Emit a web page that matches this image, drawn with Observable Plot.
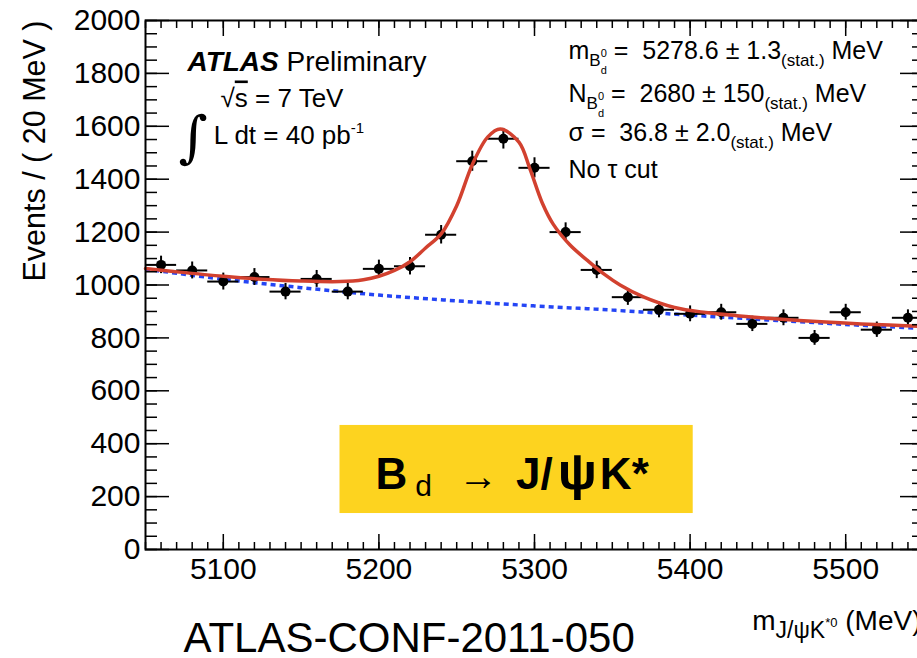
<!DOCTYPE html>
<html>
<head>
<meta charset="utf-8">
<script src="https://cdn.jsdelivr.net/npm/d3@7"></script>
<script src="https://cdn.jsdelivr.net/npm/@observablehq/plot@0.6"></script>
<style>
  html, body { margin: 0; padding: 0; background: #fff; overflow: hidden; }
  #chart svg { display: block; }
</style>
</head>
<body>
<div id="chart"></div>
<script>
// ---- data ----
const binCenters = [5060, 5080, 5100, 5120, 5140, 5160, 5180, 5200, 5220, 5240, 5260, 5280, 5300,
                    5320, 5340, 5360, 5380, 5400, 5420, 5440, 5460, 5480, 5500, 5520, 5540];
const eventCounts = [1076, 1055, 1013, 1030, 975, 1023, 975, 1061, 1071, 1190, 1468, 1553, 1443,
                     1200, 1057, 954, 906, 891, 897, 853, 876, 800, 897, 831, 876];
const countErrors = [33, 32, 32, 32, 31, 32, 31, 33, 33, 35, 38, 39, 38,
                     35, 33, 31, 30, 30, 30, 29, 30, 28, 30, 29, 30];
const binHalfWidth = 10;

// total fit (red)
const fitMass = [5050, 5068, 5100, 5125, 5150, 5175, 5190, 5200, 5210, 5220, 5230, 5240, 5250, 5260,
                 5270, 5278, 5290, 5297, 5305, 5312, 5323, 5334, 5345, 5355, 5370, 5390, 5410, 5430,
                 5450, 5470, 5490, 5510, 5550];
const fitEvents = [1062, 1051, 1033, 1022, 1015, 1013, 1020, 1033, 1055, 1088, 1140, 1193, 1300, 1455,
                   1560, 1590, 1540, 1440, 1310, 1230, 1150, 1093, 1040, 1000, 955, 915, 896, 884,
                   874, 866, 859, 853, 843];
// background component (blue dotted)
const bkgMass = [5050, 5100, 5150, 5200, 5250, 5300, 5350, 5400, 5450, 5500, 5550];
const bkgEvents = [1060, 1022, 990, 962, 940, 921, 905, 886, 868, 851, 835];

// axis ticks
const yMajorTicks = [0, 200, 400, 600, 800, 1000, 1200, 1400, 1600, 1800, 2000];
const yMinorTicks = d3.range(0, 2001, 50);
const xMajorTicks = [5100, 5200, 5300, 5400, 5500];
const xMinorTicks = d3.range(5050, 5551, 10);

// decay label box extent (in data units)
const boxMass = [5175, 5402];
const boxEvents = [136, 469];

// ---- tables for Plot ----
const points = binCenters.map((m, i) => ({m, n: eventCounts[i], e: countErrors[i]}));
const fit = fitMass.map((m, i) => ({m, n: fitEvents[i]}));
const bkg = bkgMass.map((m, i) => ({m, n: bkgEvents[i]}));

const FONT = "'Liberation Sans', Arial, Helvetica, sans-serif";

const note = (key, opts) => Plot.text([key], {text: d => d, frameAnchor: "top-left",
  textAnchor: "start", lineAnchor: "middle", fill: "black", ...opts});

const chart = Plot.plot({
  width: 917,
  height: 658,
  marginLeft: 145,
  marginRight: -6,
  marginTop: 20,
  marginBottom: 109,
  style: {fontFamily: FONT, background: "#fff", color: "black"},
  x: {domain: [5050, 5550], axis: null},
  y: {domain: [0, 2000], axis: null},
  marks: [
    // yellow decay box
    Plot.rect([0], {x1: () => boxMass[0], x2: () => boxMass[1], y1: () => boxEvents[0], y2: () => boxEvents[1],
      fill: "#fdd31f"}),
    // background component
    Plot.line(bkg, {x: "m", y: "n", curve: "catmull-rom", stroke: "#2445f5", strokeWidth: 3.5,
      strokeDasharray: "5,4", strokeLinecap: "butt"}),
    // data error bars
    Plot.ruleY(points, {y: "n", x1: d => d.m - binHalfWidth, x2: d => d.m + binHalfWidth, stroke: "black", strokeWidth: 2}),
    Plot.ruleX(points, {x: "m", y1: d => d.n - d.e, y2: d => d.n + d.e, stroke: "black", strokeWidth: 2}),
    Plot.dot(points, {x: "m", y: "n", r: 5, fill: "black", stroke: "none"}),
    // total fit
    Plot.line(fit, {x: "m", y: "n", curve: "catmull-rom", stroke: "#d2412f", strokeWidth: 3.5}),
    // axes ticks (inward)
    Plot.axisY(yMajorTicks, {anchor: "left", tickSize: -24, fill: "none", label: null, strokeWidth: 1.5}),
    Plot.axisY(yMinorTicks, {anchor: "left", tickSize: -12, fill: "none", label: null, strokeWidth: 1.5}),
    Plot.axisY(yMajorTicks, {anchor: "right", tickSize: -24, fill: "none", label: null, strokeWidth: 1.5}),
    Plot.axisY(yMinorTicks, {anchor: "right", tickSize: -12, fill: "none", label: null, strokeWidth: 1.5}),
    Plot.axisX(xMajorTicks, {anchor: "bottom", tickSize: -15, fill: "none", label: null, strokeWidth: 1.5}),
    Plot.axisX(xMinorTicks, {anchor: "bottom", tickSize: -7, fill: "none", label: null, strokeWidth: 1.5}),
    Plot.axisX(xMajorTicks, {anchor: "top", tickSize: -15, fill: "none", label: null, strokeWidth: 1.5}),
    Plot.axisX(xMinorTicks, {anchor: "top", tickSize: -7, fill: "none", label: null, strokeWidth: 1.5}),
    // tick labels
    Plot.axisY(yMajorTicks, {anchor: "left", tickSize: 0, tickPadding: 5, fontSize: 30, label: null, tickFormat: d => String(d)}),
    Plot.axisX(xMajorTicks, {anchor: "bottom", tickSize: 0, tickPadding: 8, fontSize: 30, label: null, tickFormat: d => String(d)}),
    Plot.frame({stroke: "black", strokeWidth: 2}),
    // axis titles
    Plot.text(["Events / ( 20 MeV )"], {text: d => d, frameAnchor: "top-left", rotate: -90, textAnchor: "end",
      lineAnchor: "middle", dx: -110, dy: 0, fontSize: 30.5, fill: "black"}),
    note("@xtitle", {frameAnchor: "bottom-right", textAnchor: "end", dx: -2, dy: 80, fontSize: 28}),
    note("@conf", {frameAnchor: "bottom-left", dx: 38, dy: 102, fontSize: 42}),
    // annotations
    note("@atlas", {dx: 42, dy: 50, fontSize: 28}),
    note("@sqrts", {dx: 75, dy: 86, fontSize: 26}),
    note("@lumi", {dx: 33, dy: 123, fontSize: 26}),
    note("@mass", {dx: 423, dy: 38, fontSize: 25}),
    note("@yield", {dx: 423, dy: 81, fontSize: 25}),
    note("@width", {dx: 423, dy: 120, fontSize: 25}),
    note("@cut", {dx: 423, dy: 157, fontSize: 25}),
    note("@decay", {dx: 230, dy: 468, fontSize: 44})
  ]
});

// Rich text (sub/superscripts) as tspans inside the Plot text marks; baseline at the anchor
function rich(key, parts) {
  const t = d3.select(chart).selectAll("text").filter(function() { return this.textContent === key; });
  t.text(null).attr("dy", null);
  t.each(function() {
    const y = this.getAttribute("y");
    if (y && /em$/.test(y)) this.removeAttribute("y");
  });
  let cur = 0;
  for (const p of parts) {
    const off = p.down || 0;
    const ts = t.append("tspan").text(p.t);
    if (off !== cur) { ts.attr("dy", off - cur); cur = off; }
    if (p.dx) ts.attr("dx", p.dx);
    if (p.size) ts.attr("font-size", p.size);
    if (p.bold) ts.attr("font-weight", "bold");
    if (p.italic) ts.attr("font-style", "italic");
    if (p.family) ts.attr("font-family", p.family);
    if (p.deco) ts.style("text-decoration", p.deco);
  }
}
const bd0 = [
  {t: "B", size: 17, down: 7},
  {t: "0", size: 11, down: -2},
  {t: "d", size: 11, down: 15, dx: -6.1}
];
rich("@atlas", [{t: "ATLAS", bold: true, italic: true}, {t: " Preliminary"}]);
rich("@sqrts", [{t: "√"}, {t: "s", deco: "overline"}, {t: " = 7 TeV"}]);
rich("@lumi", [{t: "∫", size: 56, down: 12, family: "'DejaVu Serif', serif"}, {t: "L dt = 40 pb", down: 0, dx: 6},
               {t: "-1", size: 15, down: -11}]);
rich("@mass", [{t: "m"}, ...bd0, {t: " =  5278.6 ± 1.3", down: 0}, {t: "(stat.)", size: 17, down: 7}, {t: " MeV", down: 0}]);
rich("@yield", [{t: "N"}, ...bd0, {t: " =  2680 ± 150", down: 0}, {t: "(stat.)", size: 17, down: 7}, {t: " MeV", down: 0}]);
rich("@width", [{t: "σ =  36.8 ± 2.0"}, {t: "(stat.)", size: 17, down: 7}, {t: " MeV", down: 0}]);
rich("@cut", [{t: "No τ cut"}]);
rich("@xtitle", [{t: "m"}, {t: "J/ψK", size: 23, down: 8}, {t: "*0", size: 13, down: -3}, {t: " (MeV)", down: 0}]);
rich("@conf", [{t: "ATLAS-CONF-2011-050"}]);
rich("@decay", [{t: "B", bold: true}, {t: "d", size: 30, down: 7, dx: 8}, {t: "→", size: 40, down: 1, dx: 26},
               {t: "J/", bold: true, down: 0, dx: 18}, {t: "ψ", bold: true, size: 52, dx: 5},
               {t: "K*", bold: true, dx: 3}]);

document.getElementById("chart").appendChild(chart);
</script>
</body>
</html>
